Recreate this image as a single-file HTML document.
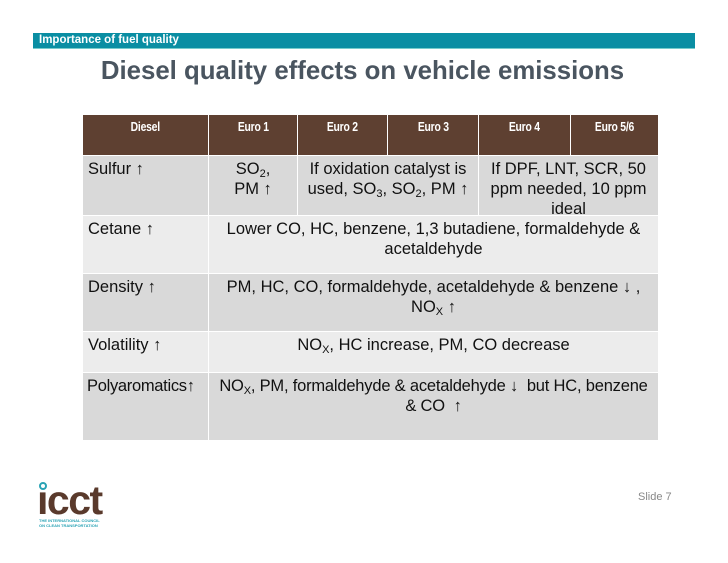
<!DOCTYPE html>
<html><head><meta charset="utf-8"><style>
body{margin:0;width:728px;height:563px;background:#fff;position:relative;overflow:hidden;font-family:"Liberation Sans",sans-serif;}
.a{position:absolute;box-sizing:border-box;}
.h{background:#5e4031;color:#fff;font-weight:bold;font-size:13px;text-align:center;padding-top:4px;}
.h span{display:inline-block;transform:scaleX(0.8);letter-spacing:-0.3px;}
.c{font-size:16.5px;color:#111;line-height:20px;padding-top:3px;white-space:nowrap;}
.g{background:#d9d9d9}.l{background:#ececec}
.ct{text-align:center}
.lf{padding-left:5px}
sub{font-size:11px;vertical-align:-3px;line-height:0}
</style></head><body>
<div class="a" style="left:33px;top:33px;width:662px;height:16px;background:#0a8ea3;border-bottom:1px solid #7cc;color:#fff;font-weight:bold;font-size:11.5px;padding-left:6px;line-height:15px;">Importance of fuel quality</div>
<div class="a" style="left:40px;top:57px;width:645px;text-align:center;font-size:25.8px;font-weight:bold;color:#4a5560;">Diesel quality effects on vehicle emissions</div>

<div class="a h" style="left:83px;top:115px;width:125px;height:40px;"><span>Diesel</span></div>
<div class="a h" style="left:209px;top:115px;width:88px;height:40px;"><span>Euro 1</span></div>
<div class="a h" style="left:298px;top:115px;width:89px;height:40px;"><span>Euro 2</span></div>
<div class="a h" style="left:388px;top:115px;width:90px;height:40px;"><span>Euro 3</span></div>
<div class="a h" style="left:479px;top:115px;width:91px;height:40px;"><span>Euro 4</span></div>
<div class="a h" style="left:571px;top:115px;width:87px;height:40px;"><span>Euro 5/6</span></div>

<div class="a c g lf" style="left:83px;top:156px;width:125px;height:59px;">Sulfur ↑</div>
<div class="a c g ct" style="left:209px;top:156px;width:88px;height:59px;">SO<sub>2</sub>,<br>PM ↑</div>
<div class="a c g ct" style="left:298px;top:156px;width:180px;height:59px;">If oxidation catalyst is<br>used, SO<sub>3</sub>, SO<sub>2</sub>, PM ↑</div>
<div class="a c g ct" style="left:479px;top:156px;width:179px;height:59px;">If DPF, LNT, SCR, 50<br>ppm needed, 10 ppm<br>ideal</div>

<div class="a c l lf" style="left:83px;top:216px;width:125px;height:57px;">Cetane ↑</div>
<div class="a c l ct" style="left:209px;top:216px;width:449px;height:57px;">Lower CO, HC, benzene, 1,3 butadiene, formaldehyde &amp;<br>acetaldehyde</div>

<div class="a c g lf" style="left:83px;top:274px;width:125px;height:57px;">Density ↑</div>
<div class="a c g ct" style="left:209px;top:274px;width:449px;height:57px;">PM, HC, CO, formaldehyde, acetaldehyde &amp; benzene ↓ ,<br>NO<sub>X</sub> ↑</div>

<div class="a c l lf" style="left:83px;top:332px;width:125px;height:40px;">Volatility ↑</div>
<div class="a c l ct" style="left:209px;top:332px;width:449px;height:40px;">NO<sub>X</sub>, HC increase, PM, CO decrease</div>

<div class="a c g lf" style="left:83px;top:373px;width:125px;height:67px;padding-left:4px;letter-spacing:-0.3px;">Polyaromatics↑</div>
<div class="a c g ct" style="left:209px;top:373px;width:449px;height:67px;letter-spacing:-0.2px;">NO<sub>X</sub>, PM, formaldehyde &amp; acetaldehyde ↓&nbsp; but HC, benzene<br>&amp; CO&nbsp; ↑</div>

<div class="a" style="left:38px;top:482px;">
  <div style="position:absolute;left:1px;top:0;width:8px;height:8px;border:2px solid #2aa3b5;border-radius:50%;box-sizing:border-box;"></div>
  <div style="position:absolute;left:-1px;top:-3px;font-size:41px;font-weight:bold;color:#5a3a2c;letter-spacing:-1.5px;line-height:42px;">&#x131;cct</div>
  <div style="position:absolute;left:1px;top:36px;font-size:4px;color:#2aa3b5;line-height:5px;width:90px;font-weight:bold;">THE INTERNATIONAL COUNCIL<br>ON CLEAN TRANSPORTATION</div>
</div>
<div class="a" style="left:638px;top:491px;font-size:11px;color:#888;">Slide 7</div>
</body></html>
